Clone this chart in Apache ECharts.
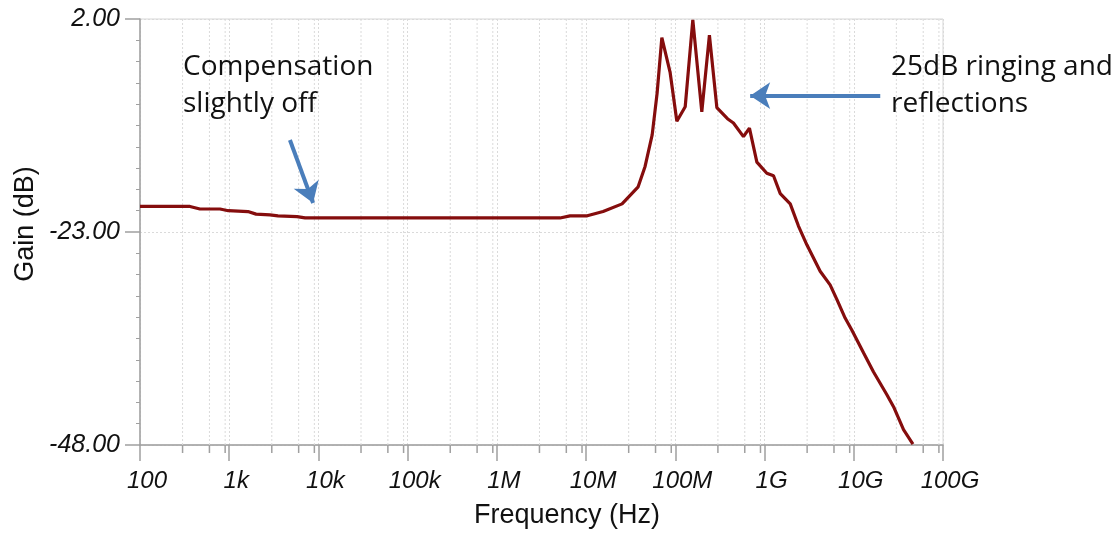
<!DOCTYPE html>
<html>
<head>
<meta charset="utf-8">
<script src="https://cdn.jsdelivr.net/npm/echarts@6/dist/echarts.min.js"></script>
<style>
  html, body { margin: 0; padding: 0; background: #fff; }
  #gainChart { width: 1120px; height: 533px; }
</style>
</head>
<body>
<div id="gainChart"></div>
<script>
// frequency response
const freqHz = [
  100, 363, 470, 789, 977, 1620, 2000, 2860, 3520, 5750, 7080,
  5.1e6, 6.6e6, 1.03e7, 1.55e7, 2.53e7, 3.83e7, 4.58e7, 5.5e7, 6.25e7, 7.06e7,
  8.75e7, 1.04e8, 1.29e8, 1.57e8, 1.98e8, 2.41e8, 2.92e8, 3.84e8, 4.48e8, 5.8e8,
  6.77e8, 8.2e8, 1.06e9, 1.26e9, 1.5e9, 1.94e9, 2.4e9, 2.98e9, 4.2e9, 5.43e9,
  6.46e9, 8.0e9, 9.5e9, 1.29e10, 1.66e10, 2.35e10, 2.79e10, 3.61e10, 4.6e10
];
const gainDb = [
  -20.0, -20.0, -20.3, -20.3, -20.5, -20.6, -20.9, -21.0, -21.1, -21.2, -21.35,
  -21.35, -21.1, -21.1, -20.6, -19.7, -17.7, -15.3, -11.6, -6.7, -0.2,
  -4.3, -10.0, -8.3, 1.9, -8.9, 0.1, -8.4, -9.7, -10.2, -11.8,
  -10.8, -14.8, -16.1, -16.4, -18.5, -19.7, -22.3, -24.5, -27.6, -29.2,
  -30.9, -33.1, -34.5, -37.2, -39.4, -42.1, -43.5, -46.2, -47.9
];

// axis labels
const decadeLabels = { 2: '100', 3: '1k', 4: '10k', 5: '100k', 6: '1M', 7: '10M', 8: '100M', 9: '1G', 10: '10G', 11: '100G' };
const decades = [1e2, 1e3, 1e4, 1e5, 1e6, 1e7, 1e8, 1e9, 1e10];
const minorMult = [3, 6, 9];

// annotation arrows [from, to] in (Hz, dB)
const arrowComp = [[4790, -12.2], [8710, -19.6]];
const arrowRing = [[1.98e10, -7.0], [6.9e8, -7.0]];

const minorFreqs = [];
decades.forEach(d => minorMult.forEach(m => minorFreqs.push([d * m, -48])));

const axisGray = '#a0a0a0';
const gridGray = '#dadada';
const blue = '#4a7ebb';

let chart = echarts.init(document.getElementById('gainChart'));

let option = {
  animation: false,
  grid: { left: 140, right: 177, top: 19, bottom: 88, show: true, borderColor: '#d6d6d6', borderWidth: 1 },
  xAxis: {
    type: 'log',
    logBase: 10,
    min: 100,
    max: 1e11,
    axisLine: { onZero: false, lineStyle: { color: axisGray, width: 1.5 } },
    axisTick: { length: 16, lineStyle: { color: axisGray, width: 1.5 } },
    axisLabel: {
      margin: 24,
      padding: [0, 0, 0, 14],
      color: '#111',
      fontFamily: 'Liberation Sans',
      fontStyle: 'italic',
      fontSize: 24,
      formatter: v => decadeLabels[Math.round(Math.log10(v))] || ''
    },
    splitLine: { show: true, lineStyle: { color: gridGray, type: [2, 2] } }
  },
  yAxis: {
    type: 'value',
    min: -48,
    max: 2,
    interval: 25,
    axisLine: { show: true, onZero: false, lineStyle: { color: axisGray, width: 1.5 } },
    axisTick: { show: true, length: 15, lineStyle: { color: axisGray, width: 1.5 } },
    minorTick: { show: true, splitNumber: 10, length: 4, lineStyle: { color: axisGray } },
    axisLabel: {
      margin: 20,
      color: '#111',
      fontFamily: 'Liberation Sans',
      fontStyle: 'italic',
      fontSize: 25,
      formatter: v => v.toFixed(2)
    },
    splitLine: { show: true, lineStyle: { color: gridGray, type: [2, 2] } }
  },
  graphic: [
    { type: 'text', x: 26, y: 224, rotation: Math.PI / 2, style: { text: 'Gain (dB)', fill: '#111', font: '27px "Liberation Sans"', textAlign: 'center', textVerticalAlign: 'middle' } },
    { type: 'text', x: 567, y: 516, style: { text: 'Frequency (Hz)', fill: '#111', font: '27px "Liberation Sans"', textAlign: 'center', textVerticalAlign: 'middle' } },
    { type: 'text', x: 183, y: 49, z: 10, style: { text: 'Compensation\nslightly off', fill: '#111', font: '28px "Open Sans"', lineHeight: 37 } },
    { type: 'text', x: 891, y: 49, z: 10, style: { text: '25dB ringing and\nreflections', fill: '#111', font: '28px "Open Sans"', lineHeight: 37 } }
  ],
  series: [
    {
      type: 'custom',
      silent: true,
      clip: false,
      z: 1,
      data: minorFreqs,
      encode: { x: 0, y: 1 },
      renderItem: function (params, api) {
        const bot = api.coord([api.value(0), -48]);
        const top = api.coord([api.value(0), 2]);
        return {
          type: 'group',
          children: [
            { type: 'line', shape: { x1: bot[0], y1: top[1], x2: bot[0], y2: bot[1] }, style: { stroke: gridGray, lineWidth: 1, lineDash: [2, 2] } },
            { type: 'line', shape: { x1: bot[0], y1: bot[1], x2: bot[0], y2: bot[1] + 8 }, style: { stroke: axisGray, lineWidth: 1.5 } }
          ]
        };
      }
    },
    {
      type: 'line',
      z: 3,
      showSymbol: false,
      silent: true,
      data: freqHz.map((f, i) => [f, gainDb[i]]),
      lineStyle: { color: '#850d0d', width: 3.2 },
      itemStyle: { color: '#850d0d' },
      markLine: {
        silent: true,
        symbol: ['none', 'arrow'],
        symbolSize: [20, 20],
        label: { show: false },
        lineStyle: { color: blue, width: 4, type: 'solid' },
        data: [
          [{ coord: arrowComp[0] }, { coord: arrowComp[1] }],
          [{ coord: arrowRing[0] }, { coord: arrowRing[1] }]
        ]
      }
    }
  ]
};

chart.setOption(option);
window.onresize = chart.resize;
</script>
</body>
</html>
